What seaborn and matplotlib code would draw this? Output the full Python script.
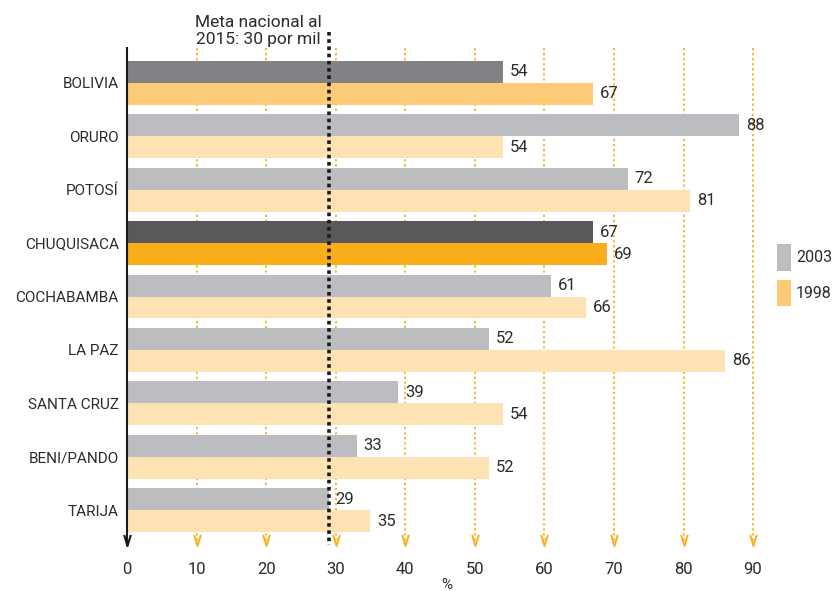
import numpy as np
import pandas as pd
import matplotlib
matplotlib.use("Agg")
import matplotlib.pyplot as plt
from matplotlib.path import Path
from matplotlib.patches import Rectangle
import seaborn as sns

# Mortalidad infantil por departamento (por mil nacidos vivos)
departamentos = ["BOLIVIA", "ORURO", "POTOSÍ", "CHUQUISACA", "COCHABAMBA",
                 "LA PAZ", "SANTA CRUZ", "BENI/PANDO", "TARIJA"]
valores_2003 = [54, 88, 72, 67, 61, 52, 39, 33, 29]
valores_1998 = [67, 54, 81, 69, 66, 86, 54, 52, 35]
anios = ["2003", "1998"]
x_ticks = [0, 10, 20, 30, 40, 50, 60, 70, 80, 90]
meta_valor = 29
meta_texto = "Meta nacional al\n2015: 30 por mil"

# colores por año: normal, nacional (Bolivia) y destacado (Chuquisaca)
col_2003 = {"normal": "#bcbdc0", "BOLIVIA": "#818286", "CHUQUISACA": "#58595b"}
col_1998 = {"normal": "#fde3b4", "BOLIVIA": "#fdcb77", "CHUQUISACA": "#f9ae1a"}
naranja = "#f9ae1a"
texto = "#2b2b2b"

sns.set_theme(style="white")
plt.rcParams["font.family"] = ["Roboto", "DejaVu Sans"]
FS = 12
FS_CAT = 11

df = pd.DataFrame({
    "Departamento": departamentos * 2,
    "Valor": valores_2003 + valores_1998,
    "Año": [anios[0]] * len(departamentos) + [anios[1]] * len(departamentos),
})

W, H = 832, 591
fig = plt.figure(figsize=(W / 100, H / 100), dpi=100)
ax = fig.add_axes([127 / W, 1 - 545 / H, 640 / W, (545 - 48) / H])

ymin, ymax = -0.65, len(departamentos) - 1 + 0.65

# líneas guía punteadas con punta de flecha
chevron = Path([(-0.6, 1), (0, -1), (0.6, 1)], [Path.MOVETO, Path.LINETO, Path.LINETO])
for xv in x_ticks[1:]:
    ax.plot([xv, xv], [ymin, ymax - 0.02], ls=(0, (1.2, 1.6)), lw=1.3,
            color=naranja, zorder=0)
    ax.plot([xv], [ymax - 0.09], marker=chevron, ms=8, mfc="none",
            mec=naranja, mew=1.4, zorder=0, clip_on=False)

sns.barplot(data=df, y="Departamento", x="Valor", hue="Año", order=departamentos,
            hue_order=anios, orient="h", width=0.82, ax=ax, legend=False,
            saturation=1, zorder=2)

for cont, cmap, vals in zip(ax.containers, [col_2003, col_1998], [valores_2003, valores_1998]):
    for bar, dep, v in zip(cont, departamentos, vals):
        bar.set_facecolor(cmap.get(dep, cmap["normal"]))
        bar.set_edgecolor("none")
        ax.text(v + 1.0, bar.get_y() + bar.get_height() / 2, str(v),
                va="center", ha="left", fontsize=FS, color=texto, zorder=4)

# meta nacional
ax.plot([meta_valor, meta_valor], [ymin - 0.3, ymax], ls=(0, (1, 1)), lw=2.6,
        color="#1a1a1a", zorder=3, clip_on=False)
fig.text(258 / W, 1 - 31 / H, meta_texto, ha="center", va="center",
         fontsize=12.5, color=texto, linespacing=1.15)

ax.set_xlim(0, 92)
ax.set_ylim(ymax, ymin)
ax.set_xticks(x_ticks)
ax.set_xticklabels([str(t) for t in x_ticks], fontsize=FS, color=texto)
ax.tick_params(axis="x", length=0, pad=12)
ax.tick_params(axis="y", length=0, pad=6, labelsize=FS_CAT, labelcolor=texto)
ax.set_xlabel("")
ax.set_ylabel("")
for s in ["top", "right", "bottom"]:
    ax.spines[s].set_visible(False)
ax.spines["left"].set_color("#1a1a1a")
ax.spines["left"].set_linewidth(1.5)
ax.plot([0], [ymax - 0.09], marker=chevron, ms=8, mfc="none", mec="#1a1a1a",
        mew=1.5, clip_on=False, zorder=5)

fig.text(447 / W, 1 - 578 / H, "%", ha="center", va="top", fontsize=11, color=texto)

# leyenda
for (y0, y1), anio, c in zip([(244, 271), (280, 306)], anios, ["#bcbdc0", "#fdcb77"]):
    fig.patches.append(Rectangle((777 / W, 1 - y1 / H), 14 / W, (y1 - y0) / H,
                                 transform=fig.transFigure, facecolor=c,
                                 edgecolor="none"))
    fig.text(796 / W, 1 - ((y0 + y1) / 2) / H, anio, ha="left", va="center",
             fontsize=11.5, color=texto)

fig.savefig("out.png", dpi=100)
